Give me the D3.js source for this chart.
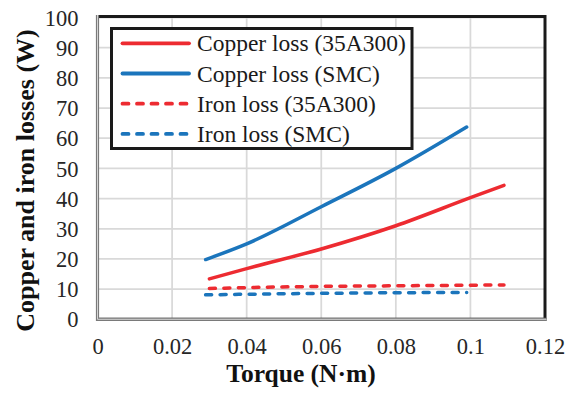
<!DOCTYPE html>
<html>
<head>
<meta charset="utf-8">
<script src="https://cdn.jsdelivr.net/npm/d3@7"></script>
<style>
  html, body { margin: 0; padding: 0; background: #fff; }
  svg { display: block; font-family: "Liberation Serif", "Times New Roman", serif; }
</style>
</head>
<body>
<svg id="chart" width="572" height="394"></svg>
<script>
// Torque values (N·m) for each material
const torque35A300 = [0.030, 0.040, 0.060, 0.080, 0.100, 0.109];
const torqueSMC    = [0.029, 0.040, 0.060, 0.080, 0.099];

// Losses (W)
const copper35A300 = [13.4, 16.8, 23.3, 31.0, 40.3, 44.4];
const copperSMC    = [19.8, 25.0, 37.3, 50.0, 63.7];
const iron35A300   = [10.2, 10.5, 10.9, 11.1, 11.3, 11.4];
const ironSMC      = [8.1, 8.3, 8.6, 8.8, 8.9];

const xTicks = [0, 0.02, 0.04, 0.06, 0.08, 0.1, 0.12];
const xTickLabels = ["0", "0.02", "0.04", "0.06", "0.08", "0.1", "0.12"];
const yTicks = [0, 10, 20, 30, 40, 50, 60, 70, 80, 90, 100];

const seriesNames = ["Copper loss (35A300)", "Copper loss (SMC)", "Iron loss (35A300)", "Iron loss (SMC)"];

const RED = "#ED2B31";
const BLUE = "#1B75BC";
const SERIF = "'Liberation Serif', 'Times New Roman', serif";

const series = [
  { name: seriesNames[0], x: torque35A300, y: copper35A300, color: RED,  dashed: false },
  { name: seriesNames[1], x: torqueSMC,    y: copperSMC,    color: BLUE, dashed: false },
  { name: seriesNames[2], x: torque35A300, y: iron35A300,   color: RED,  dashed: true },
  { name: seriesNames[3], x: torqueSMC,    y: ironSMC,      color: BLUE, dashed: true }
];

const svg = d3.select("#chart");
const plot = { left: 97.5, right: 545, top: 17.5, bottom: 319.3 };

const x = d3.scaleLinear().domain([0, 0.12]).range([plot.left, plot.right]);
const y = d3.scaleLinear().domain([0, 100]).range([plot.bottom, plot.top]);

// Gridlines
const grid = svg.append("g");
grid.selectAll("line.v").data(xTicks.slice(1)).join("line")
  .attr("x1", d => x(d)).attr("x2", d => x(d))
  .attr("y1", plot.top).attr("y2", plot.bottom)
  .attr("stroke", "#d9d9d9").attr("stroke-width", 1.75);
grid.selectAll("line.h").data(yTicks.slice(1)).join("line")
  .attr("x1", plot.left).attr("x2", plot.right)
  .attr("y1", d => y(d)).attr("y2", d => y(d))
  .attr("stroke", "#d9d9d9").attr("stroke-width", 1.75);

// Plot frame
svg.append("rect")
  .attr("x", plot.left).attr("y", plot.top - 1)
  .attr("width", plot.right - plot.left).attr("height", plot.bottom - plot.top + 1)
  .attr("fill", "none").attr("stroke", "#1a1a1a").attr("stroke-width", 3);

// Axis lines (double gray line style)
const axisPath = `M${plot.left},${plot.top - 2.5}V${plot.bottom}H${plot.right + 1.5}`;
svg.append("path").attr("d", axisPath).attr("fill", "none")
  .attr("stroke", "#7a7a7a").attr("stroke-width", 3.2);
svg.append("path").attr("d", axisPath).attr("fill", "none")
  .attr("stroke", "#d4d4d4").attr("stroke-width", 1);

// Axes with D3 axis generators (labels only, no tick marks)
const xAxis = d3.axisBottom(x).tickValues(xTicks)
  .tickFormat((d, i) => xTickLabels[i]).tickSize(0).tickPadding(0);
const gx = svg.append("g").attr("transform", `translate(0,${plot.bottom})`)
  .call(xAxis).attr("font-family", SERIF);
gx.select(".domain").remove();
gx.selectAll("text")
  .attr("y", 35).attr("dy", null)
  .attr("font-family", SERIF)
  .attr("font-size", 22.5).attr("fill", "#262626");

const yAxis = d3.axisLeft(y).tickValues(yTicks).tickSize(0).tickPadding(0);
const gy = svg.append("g").attr("transform", `translate(${plot.left},0)`)
  .call(yAxis).attr("font-family", SERIF);
gy.select(".domain").remove();
gy.selectAll("text")
  .attr("x", -19).attr("dy", "0.34em")
  .attr("font-family", SERIF)
  .attr("font-size", 22.5).attr("fill", "#262626");

// Series lines
const line = d3.line().curve(d3.curveMonotoneX);
svg.append("g").selectAll("path").data(series).join("path")
  .attr("d", s => line(s.x.map((t, i) => [x(t), y(s.y[i])])))
  .attr("fill", "none")
  .attr("stroke", s => s.color)
  .attr("stroke-width", 3.5)
  .attr("stroke-linecap", "round")
  .attr("stroke-linejoin", "round")
  .attr("stroke-dasharray", s => s.dashed ? "6,8.5" : null);

// Legend
const legend = svg.append("g");
legend.append("rect")
  .attr("x", 111.5).attr("y", 28.5).attr("width", 300.5).attr("height", 120)
  .attr("fill", "#fff").attr("stroke", "#1a1a1a").attr("stroke-width", 3);
const rows = legend.selectAll("g.row").data(series).join("g")
  .attr("transform", (d, i) => `translate(0,${43.3 + i * 30.2})`);
rows.append("line")
  .attr("x1", 122.5).attr("x2", 189)
  .attr("stroke", d => d.color).attr("stroke-width", 3.8)
  .attr("stroke-linecap", "round")
  .attr("stroke-dasharray", d => d.dashed ? "6,8.5" : null);
rows.append("text")
  .attr("x", 197).attr("y", 8)
  .attr("font-size", 23.5).attr("fill", "#1a1a1a")
  .text(d => d.name);

// Axis titles
svg.append("text")
  .attr("x", 301).attr("y", 381.5)
  .attr("text-anchor", "middle")
  .attr("font-size", 25.5).attr("font-weight", "bold").attr("fill", "#111")
  .text("Torque (N·m)");
svg.append("text")
  .attr("transform", "translate(34,180.5) rotate(-90)")
  .attr("text-anchor", "middle")
  .attr("font-size", 26).attr("font-weight", "bold").attr("fill", "#111")
  .text("Copper and iron losses (W)");
</script>
</body>
</html>
